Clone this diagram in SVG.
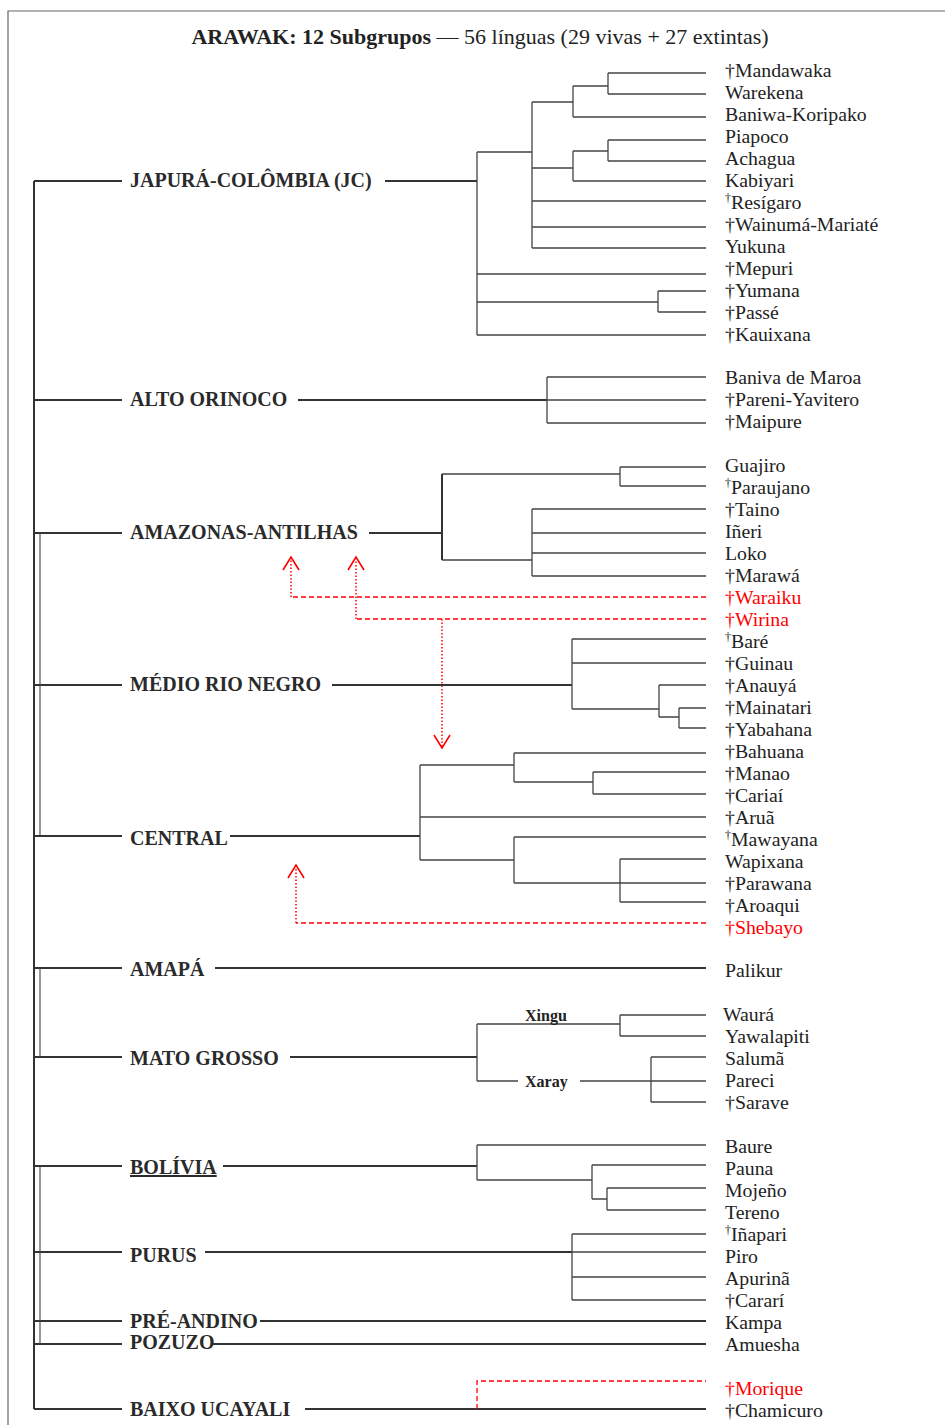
<svg xmlns="http://www.w3.org/2000/svg" width="945" height="1425" viewBox="0 0 945 1425">
<style>
text{font-family:"Liberation Serif","Times New Roman",serif}
.lf{font-size:19.8px;fill:#222}
.gl{font-size:20px;font-weight:bold;fill:#2a2a2a}
.sb{font-size:16px;font-weight:bold;fill:#222}
.rd{fill:#f00}
.tt{font-size:22px;fill:#222}
.thick{stroke:#333;stroke-width:2;fill:none}
.thin{stroke:#444;stroke-width:1.3;fill:none}
.inner{stroke:#444;stroke-width:1.1;fill:none}
.frame{stroke:#666;stroke-width:1.2;fill:none}
.dash{stroke:#f00;stroke-width:1.3;stroke-dasharray:5 3;fill:none}
.dot{stroke:#f00;stroke-width:1.5;stroke-dasharray:1.5 2;fill:none}
.arr{stroke:#f00;stroke-width:1.6;fill:none}
</style>
<rect width="945" height="1425" fill="#fff"/>
<path class="frame" d="M8 1425 V11 H945"/>
<g id="title"><text class="tt" x="480" y="44" text-anchor="middle"><tspan font-weight="bold">ARAWAK: 12 Subgrupos</tspan> — 56 línguas (29 vivas + 27 extintas)</text></g>

<g id="connectors">
<path class="thick" d="M34 181 V1409 M34 181 H122 M34 400 H122 M34 533 H122 M34 685 H122 M34 836 H122 M34 968 H122 M34 1057 H122 M34 1166 H122 M34 1252 H122 M34 1321 H122 M34 1344 H122 M34 1409 H122"/>
<path class="inner" d="M40 533 V836 M40 968 V1057 M40 1166 V1344"/>
<path class="thick" d="M385 181 H477"/>
<path class="thin" d="M477 152 V335 M477 152 H532 M532 102 V248 M532 102 H573 M573 86 V117 M573 86 H608 M608 73 V94 M608 73 H706 M608 94 H706 M573 117 H706 M532 168 H573 M573 151 V181 M573 151 H608 M608 140 V161 M608 140 H706 M608 161 H706 M573 181 H706 M532 201 H706 M532 227 H706 M532 248 H706 M477 274 H706 M477 302 H658 M658 291 V312 M658 291 H706 M658 312 H706 M477 335 H706"/>
<path class="thick" d="M298 400 H547"/>
<path class="thin" d="M547 377 V423 M547 377 H706 M547 400 H706 M547 423 H706"/>
<path class="thick" d="M369 533 H442 M442 474 V560"/>
<path class="thin" d="M442 474 H620 M620 467 V486 M620 467 H706 M620 486 H706 M442 560 H532 M532 509 V576 M532 509 H706 M532 533 H706 M532 553 H706 M532 576 H706"/>
<path class="dash" d="M706 597 H291 M706 619 H356"/>
<path class="dot" d="M291 597 V560 M356 619 V560 M442 619 V746"/>
<path class="arr" d="M283 570 L291 557 L299 570 M348 570 L356 557 L364 570 M434 735 L442 748 L450 735"/>
<path class="thick" d="M332 685 H572"/>
<path class="thin" d="M572 639 V709 M572 639 H706 M572 663 H706 M572 709 H659 M659 685 V717 M659 685 H706 M659 717 H679 M679 708 V728 M679 708 H706 M679 728 H706"/>
<path class="thick" d="M230 836 H420"/>
<path class="thin" d="M420 765 V860 M420 765 H514 M514 753 V782 M514 753 H706 M514 782 H593 M593 772 V794 M593 772 H706 M593 794 H706 M420 817 H706 M420 860 H514 M514 837 V883 M514 837 H706 M514 883 H706 M620 859 V902 M620 859 H706 M620 902 H706"/>
<path class="dash" d="M706 923 H296"/>
<path class="dot" d="M296 923 V867"/>
<path class="arr" d="M288 878 L296 865 L304 878"/>
<path class="thick" d="M215 968 H706"/>
<path class="thick" d="M290 1057 H477"/>
<path class="thin" d="M477 1024 V1081 M477 1024 H620 M620 1015 V1036 M620 1015 H706 M620 1036 H706 M477 1081 H518 M580 1081 H706 M651 1057 V1102 M651 1057 H706 M651 1102 H706"/>
<path class="thick" d="M223 1166 H477"/>
<path class="thin" d="M477 1145 V1180 M477 1145 H706 M477 1180 H592 M592 1165 V1199 M592 1165 H706 M592 1199 H607 M607 1188 V1210 M607 1188 H706 M607 1210 H706"/>
<path class="thick" d="M205 1252 H572"/>
<path class="thin" d="M572 1234 V1300 M572 1234 H706 M572 1252 H706 M572 1277 H706 M572 1300 H706"/>
<path class="thick" d="M260 1321 H706 M213 1344 H706 M305 1409 H706"/>
<path class="dash" d="M477 1409 V1381 H706"/>
</g>

<g id="groups">
<g id="g-jc"><text class="gl" x="130" y="187">JAPURÁ-COLÔMBIA (JC)</text></g>
<g id="g-alto"><text class="gl" x="130" y="406">ALTO ORINOCO</text></g>
<g id="g-amaz"><text class="gl" x="130" y="539">AMAZONAS-ANTILHAS</text></g>
<g id="g-medio"><text class="gl" x="130" y="691">MÉDIO RIO NEGRO</text></g>
<g id="g-central"><text class="gl" x="130" y="845">CENTRAL</text></g>
<g id="g-amapa"><text class="gl" x="130" y="976">AMAPÁ</text></g>
<g id="g-mato"><text class="gl" x="130" y="1065">MATO GROSSO</text></g>
<g id="g-xingu"><text class="sb" x="525" y="1021">Xingu</text></g>
<g id="g-xaray"><text class="sb" x="525" y="1087">Xaray</text></g>
<g id="g-bolivia"><text class="gl" x="130" y="1174" text-decoration="underline">BOLÍVIA</text></g>
<g id="g-purus"><text class="gl" x="130" y="1262">PURUS</text></g>
<g id="g-pre"><text class="gl" x="130" y="1328">PRÉ-ANDINO</text></g>
<g id="g-pozuzo"><text class="gl" x="130" y="1349">POZUZO</text></g>
<g id="g-baixo"><text class="gl" x="130" y="1416">BAIXO UCAYALI</text></g>
</g>

<g id="leaves">
<g id="l-mandawaka"><text class="lf" x="725" y="77">†Mandawaka</text></g>
<g id="l-warekena"><text class="lf" x="725" y="99">Warekena</text></g>
<g id="l-baniwa"><text class="lf" x="725" y="121">Baniwa-Koripako</text></g>
<g id="l-piapoco"><text class="lf" x="725" y="143">Piapoco</text></g>
<g id="l-achagua"><text class="lf" x="725" y="165">Achagua</text></g>
<g id="l-kabiyari"><text class="lf" x="725" y="187">Kabiyari</text></g>
<g id="l-resigaro"><text class="lf" x="725" y="209"><tspan font-size="12" dy="-7">†</tspan><tspan dy="7">Resígaro</tspan></text></g>
<g id="l-wainuma"><text class="lf" x="725" y="231">†Wainumá-Mariaté</text></g>
<g id="l-yukuna"><text class="lf" x="725" y="253">Yukuna</text></g>
<g id="l-mepuri"><text class="lf" x="725" y="275">†Mepuri</text></g>
<g id="l-yumana"><text class="lf" x="725" y="297">†Yumana</text></g>
<g id="l-passe"><text class="lf" x="725" y="319">†Passé</text></g>
<g id="l-kauixana"><text class="lf" x="725" y="341">†Kauixana</text></g>
<g id="l-baniva"><text class="lf" x="725" y="384">Baniva de Maroa</text></g>
<g id="l-pareni"><text class="lf" x="725" y="406">†Pareni-Yavitero</text></g>
<g id="l-maipure"><text class="lf" x="725" y="428">†Maipure</text></g>
<g id="l-guajiro"><text class="lf" x="725" y="472">Guajiro</text></g>
<g id="l-paraujano"><text class="lf" x="725" y="494"><tspan font-size="12" dy="-7">†</tspan><tspan dy="7">Paraujano</tspan></text></g>
<g id="l-taino"><text class="lf" x="725" y="516">†Taino</text></g>
<g id="l-ineri"><text class="lf" x="725" y="538">Iñeri</text></g>
<g id="l-loko"><text class="lf" x="725" y="560">Loko</text></g>
<g id="l-marawa"><text class="lf" x="725" y="582">†Marawá</text></g>
<g id="l-waraiku"><text class="lf rd" x="725" y="604">†Waraiku</text></g>
<g id="l-wirina"><text class="lf rd" x="725" y="626">†Wirina</text></g>
<g id="l-bare"><text class="lf" x="725" y="648"><tspan font-size="12" dy="-7">†</tspan><tspan dy="7">Baré</tspan></text></g>
<g id="l-guinau"><text class="lf" x="725" y="670">†Guinau</text></g>
<g id="l-anauya"><text class="lf" x="725" y="692">†Anauyá</text></g>
<g id="l-mainatari"><text class="lf" x="725" y="714">†Mainatari</text></g>
<g id="l-yabahana"><text class="lf" x="725" y="736">†Yabahana</text></g>
<g id="l-bahuana"><text class="lf" x="725" y="758">†Bahuana</text></g>
<g id="l-manao"><text class="lf" x="725" y="780">†Manao</text></g>
<g id="l-cariai"><text class="lf" x="725" y="802">†Cariaí</text></g>
<g id="l-arua"><text class="lf" x="725" y="824">†Aruã</text></g>
<g id="l-mawayana"><text class="lf" x="725" y="846"><tspan font-size="12" dy="-7">†</tspan><tspan dy="7">Mawayana</tspan></text></g>
<g id="l-wapixana"><text class="lf" x="725" y="868">Wapixana</text></g>
<g id="l-parawana"><text class="lf" x="725" y="890">†Parawana</text></g>
<g id="l-aroaqui"><text class="lf" x="725" y="912">†Aroaqui</text></g>
<g id="l-shebayo"><text class="lf rd" x="725" y="934">†Shebayo</text></g>
<g id="l-palikur"><text class="lf" x="725" y="977">Palikur</text></g>
<g id="l-waura"><text class="lf" x="723" y="1021">Waurá</text></g>
<g id="l-yawalapiti"><text class="lf" x="725" y="1043">Yawalapiti</text></g>
<g id="l-saluma"><text class="lf" x="725" y="1065">Salumã</text></g>
<g id="l-pareci"><text class="lf" x="725" y="1087">Pareci</text></g>
<g id="l-sarave"><text class="lf" x="725" y="1109">†Sarave</text></g>
<g id="l-baure"><text class="lf" x="725" y="1153">Baure</text></g>
<g id="l-pauna"><text class="lf" x="725" y="1175">Pauna</text></g>
<g id="l-mojeno"><text class="lf" x="725" y="1197">Mojeño</text></g>
<g id="l-tereno"><text class="lf" x="725" y="1219">Tereno</text></g>
<g id="l-inapari"><text class="lf" x="725" y="1241"><tspan font-size="12" dy="-7">†</tspan><tspan dy="7">Iñapari</tspan></text></g>
<g id="l-piro"><text class="lf" x="725" y="1263">Piro</text></g>
<g id="l-apurina"><text class="lf" x="725" y="1285">Apurinã</text></g>
<g id="l-carari"><text class="lf" x="725" y="1307">†Cararí</text></g>
<g id="l-kampa"><text class="lf" x="725" y="1329">Kampa</text></g>
<g id="l-amuesha"><text class="lf" x="725" y="1351">Amuesha</text></g>
<g id="l-morique"><text class="lf rd" x="725" y="1395">†Morique</text></g>
<g id="l-chamicuro"><text class="lf" x="725" y="1417">†Chamicuro</text></g>
</g>
</svg>
